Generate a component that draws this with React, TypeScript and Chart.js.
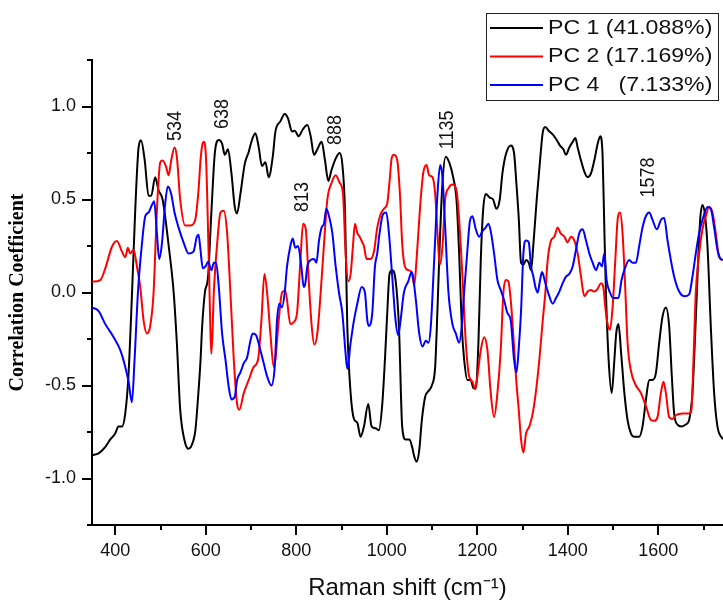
import React, { useEffect, useRef } from 'react';
import { Chart, registerables } from 'chart.js';

Chart.register(...registerables);

const SANS = '"Liberation Sans", Arial, Helvetica, sans-serif';
const SERIF = '"Liberation Serif", "Times New Roman", serif';

// ---- data (Raman shift in cm^-1, correlation coefficient) ----
const pc1Shift = [348.5, 363, 378, 389, 400, 407, 415, 422, 429, 437, 444, 451.5, 457, 465, 473.5, 479.5, 488, 495.6, 504.5, 518, 529, 536, 543.4, 554.5, 562, 569, 577, 583, 588, 592, 598, 605, 612.5, 620, 628.7, 636, 642, 649, 656.7, 664, 669, 676.5, 686, 695, 702, 709.6, 717, 724, 731.7, 739, 748, 753.8, 764.8, 774.4, 781.7, 790.6, 796.4, 805.3, 814, 824.4, 831.8, 839, 846.5, 856, 863.4, 870.8, 878, 887, 895.8, 901.7, 907.6, 912.7, 920, 927.4, 934.8, 942, 949.5, 959, 966.4, 975, 982.6, 990, 995.9, 1001, 1006, 1012, 1019.4, 1026.8, 1034, 1041.5, 1050, 1056, 1060.5, 1065.7, 1071.6, 1077.5, 1084.8, 1092, 1099.5, 1106.9, 1112, 1117, 1123, 1130.4, 1139.3, 1146.6, 1154, 1159.9, 1165.7, 1170.9, 1178.2, 1185.6, 1191.5, 1196.6, 1202.5, 1207.7, 1212.8, 1218.7, 1227.5, 1234.9, 1242.3, 1249.6, 1255.5, 1262.9, 1273.9, 1281.2, 1286, 1291.6, 1296.7, 1301.9, 1307.8, 1313.7, 1318.8, 1324, 1331.3, 1338.7, 1344.6, 1350.4, 1357.8, 1366.6, 1375.5, 1382.8, 1390.2, 1396, 1403.4, 1410.8, 1416.7, 1421.8, 1429.2, 1436.5, 1443.9, 1451.2, 1458.6, 1466, 1471.8, 1477, 1480.7, 1484.3, 1490.2, 1497, 1503, 1507, 1512, 1518, 1525, 1532, 1539.4, 1546.8, 1557.8, 1565.2, 1572.5, 1579.9, 1587.3, 1594.6, 1602, 1609.3, 1616.7, 1624, 1629.9, 1635, 1642.4, 1651.3, 1660.8, 1668.2, 1675.5, 1680.7, 1686.6, 1692.5, 1697.6, 1703.5, 1708.7, 1716, 1723.4, 1730.7, 1742.5];
const pc1Corr = [-0.874, -0.865, -0.83, -0.79, -0.757, -0.72, -0.72, -0.65, -0.45, 0.0, 0.44, 0.78, 0.817, 0.71, 0.52, 0.52, 0.62, 0.55, 0.5, 0.25, 0.0, -0.27, -0.63, -0.81, -0.84, -0.82, -0.74, -0.56, -0.38, -0.18, 0.0, 0.085, 0.44, 0.75, 0.82, 0.8, 0.74, 0.77, 0.64, 0.46, 0.425, 0.53, 0.69, 0.757, 0.82, 0.856, 0.78, 0.68, 0.7, 0.62, 0.73, 0.865, 0.92, 0.96, 0.936, 0.865, 0.87, 0.84, 0.875, 0.9, 0.84, 0.74, 0.77, 0.81, 0.71, 0.6, 0.66, 0.72, 0.75, 0.69, 0.44, -0.18, -0.54, -0.68, -0.7, -0.775, -0.72, -0.6, -0.72, -0.73, -0.74, -0.6, -0.36, -0.11, 0.1, 0.12, 0.067, -0.18, -0.72, -0.79, -0.79, -0.83, -0.88, -0.91, -0.85, -0.685, -0.56, -0.53, -0.5, -0.4, -0.09, 0.26, 0.59, 0.73, 0.69, 0.62, 0.5, 0.21, -0.18, -0.36, -0.47, -0.47, -0.515, -0.515, -0.27, 0.175, 0.44, 0.53, 0.51, 0.5, 0.45, 0.5, 0.64, 0.74, 0.79, 0.75, 0.6, 0.4, 0.16, 0.15, 0.175, 0.16, 0.12, 0.26, 0.5, 0.71, 0.86, 0.89, 0.87, 0.85, 0.82, 0.79, 0.77, 0.74, 0.78, 0.81, 0.83, 0.78, 0.71, 0.65, 0.62, 0.64, 0.71, 0.8, 0.84, 0.73, 0.35, 0.0, -0.36, -0.54, -0.36, -0.22, -0.17, -0.33, -0.54, -0.685, -0.757, -0.775, -0.775, -0.72, -0.58, -0.47, -0.47, -0.435, -0.27, -0.13, -0.08, -0.18, -0.45, -0.65, -0.71, -0.72, -0.71, -0.685, -0.54, -0.27, 0.085, 0.39, 0.47, 0.41, 0.25, -0.18, -0.54, -0.72, -0.79];

const pc2Shift = [348.5, 366.8, 377.9, 392.6, 403.6, 414.7, 422, 427.9, 433, 440.4, 447.8, 455.1, 462.5, 469.8, 477.2, 484.6, 491.9, 499.3, 504.4, 511.8, 517.7, 523.5, 530.9, 536, 543.4, 554.5, 565.5, 576.5, 583.9, 588.3, 591.9, 595.6, 600.7, 606.6, 612.5, 617.7, 625, 632.4, 639.7, 647.1, 654.4, 661.8, 669.2, 674.3, 683.9, 694.9, 705.9, 715.5, 722.9, 729.5, 735.4, 742.7, 750.1, 753.8, 761.1, 768.5, 775.8, 786.9, 794.2, 801.6, 809, 815, 821, 826.6, 834, 839.9, 846.5, 853.9, 861.2, 868.6, 878.1, 887, 895.8, 903.2, 909, 914.9, 920.1, 925.2, 929.6, 934.8, 940, 945.8, 949.5, 955.4, 964.2, 971.6, 979, 986.3, 993.7, 1001, 1006.2, 1010.6, 1015.7, 1023.1, 1029, 1034.1, 1040, 1047.4, 1054.7, 1060.6, 1065.7, 1073, 1080.4, 1087.8, 1093.6, 1101, 1106.9, 1112, 1117.2, 1123, 1129, 1136.3, 1145.1, 1154, 1159.9, 1167.2, 1174.6, 1181.9, 1189.3, 1195.2, 1200.3, 1207.7, 1215, 1222.4, 1229.7, 1237.1, 1244.5, 1251.8, 1257.7, 1262.9, 1268.7, 1273.9, 1281.2, 1286, 1291.6, 1296.7, 1301.9, 1307.8, 1315.1, 1322.5, 1329.2, 1337.2, 1344.6, 1350.4, 1355.6, 1363, 1370.3, 1377.7, 1383.6, 1392.4, 1399.7, 1407.1, 1414.4, 1421.8, 1429.2, 1436.5, 1443.9, 1451.2, 1458.6, 1466, 1473.3, 1478.5, 1482.9, 1488, 1493.2, 1499, 1505, 1510.1, 1515.5, 1521, 1526.5, 1532.1, 1539.4, 1550.5, 1561.5, 1572.5, 1583.6, 1591, 1598.3, 1605.7, 1611.5, 1616.7, 1624, 1631.4, 1638.8, 1653.5, 1668.2, 1673.3, 1677.8, 1682.9, 1690.3, 1697.6, 1705, 1712.3, 1719.7, 1727, 1734.4, 1742.5];
const pc2Corr = [0.058, 0.067, 0.13, 0.246, 0.277, 0.22, 0.19, 0.24, 0.21, 0.23, 0.14, 0.03, -0.15, -0.22, -0.18, 0.0, 0.44, 0.7, 0.71, 0.68, 0.63, 0.71, 0.78, 0.73, 0.5, 0.36, 0.36, 0.39, 0.55, 0.71, 0.79, 0.81, 0.71, 0.175, -0.33, 0.0, 0.26, 0.43, 0.44, 0.32, 0.0, -0.36, -0.6, -0.63, -0.54, -0.47, -0.4, -0.36, -0.15, 0.1, 0.0, -0.22, -0.4, -0.36, -0.15, 0.0, 0.01, -0.17, -0.16, -0.11, 0.17, 0.37, 0.34, 0.1, -0.18, -0.28, -0.22, 0.0, 0.26, 0.5, 0.59, 0.63, 0.59, 0.53, 0.21, 0.06, 0.1, 0.25, 0.37, 0.32, 0.3, 0.27, 0.25, 0.18, 0.18, 0.22, 0.35, 0.42, 0.45, 0.48, 0.6, 0.72, 0.74, 0.71, 0.53, 0.26, 0.14, 0.12, 0.11, 0.04, 0.175, 0.44, 0.64, 0.685, 0.63, 0.62, 0.53, 0.32, 0.15, 0.245, 0.5, 0.56, 0.58, 0.55, 0.39, 0.085, -0.27, -0.45, -0.48, -0.52, -0.45, -0.31, -0.24, -0.31, -0.54, -0.67, -0.54, -0.31, 0.0, 0.067, 0.06, -0.04, -0.29, -0.47, -0.63, -0.79, -0.86, -0.757, -0.72, -0.65, -0.54, -0.36, -0.15, 0.0, 0.175, 0.28, 0.3, 0.35, 0.32, 0.3, 0.27, 0.3, 0.28, 0.21, 0.085, -0.02, 0.005, 0.013, 0.005, 0.02, 0.05, 0.03, -0.08, -0.17, -0.2, -0.08, 0.175, 0.39, 0.43, 0.32, 0.05, -0.27, -0.42, -0.5, -0.54, -0.61, -0.685, -0.69, -0.67, -0.54, -0.48, -0.54, -0.67, -0.68, -0.66, -0.65, -0.65, -0.63, -0.36, 0.0, 0.21, 0.34, 0.41, 0.46, 0.43, 0.32, 0.19, 0.175];

const pc4Shift = [348.5, 363.2, 377.9, 396.3, 411, 422, 429.4, 436.7, 442.6, 450, 458.8, 466.2, 473.5, 480.9, 486, 491.9, 497, 502.9, 510.3, 516.2, 523.5, 530.9, 539.7, 550.8, 561.8, 572.8, 580.2, 584, 588.2, 593.4, 599.3, 605.2, 612.5, 617.7, 622.8, 628.7, 636, 643.4, 650.8, 656.7, 664, 669.2, 676.5, 683.9, 691.2, 698.6, 703.7, 711.1, 718.5, 728, 735.4, 745, 752.3, 757.4, 762.6, 768.5, 774.4, 779.5, 786.9, 792, 797.9, 803.8, 811.2, 816.3, 820, 824.4, 831.8, 839.2, 844.3, 850.2, 856.1, 861.2, 866.4, 872.3, 879.6, 887, 894.3, 901.7, 909, 912.7, 920.1, 927.4, 934.8, 944.4, 951.7, 956.9, 960.5, 967.9, 973.8, 978.9, 984.1, 991.4, 998.8, 1004.7, 1012, 1019.4, 1025.3, 1030.4, 1037.8, 1047.4, 1054.7, 1058, 1064.2, 1071.6, 1078.9, 1086.3, 1092.2, 1097.3, 1104.7, 1112, 1117.9, 1123, 1129, 1136.3, 1145.1, 1152.5, 1159.9, 1165.7, 1170.9, 1178.2, 1183.4, 1189.3, 1196.6, 1204, 1211.4, 1218.7, 1224.6, 1229.7, 1237.1, 1244.5, 1251.8, 1259.2, 1266.5, 1273.9, 1281.2, 1286.4, 1291.6, 1296.7, 1301.9, 1307.8, 1313.7, 1318.8, 1324, 1328.4, 1333.5, 1338.7, 1343.1, 1350.4, 1357.8, 1366.6, 1374, 1381.3, 1388.7, 1396, 1403.4, 1410.8, 1418.1, 1425.5, 1432.8, 1440.2, 1447.6, 1454.9, 1462.3, 1469.6, 1475.5, 1480.7, 1485.8, 1493.2, 1500.5, 1507.9, 1512, 1518.8, 1526.2, 1535.8, 1543.1, 1550.5, 1557.8, 1565.2, 1572.5, 1579.9, 1587.3, 1596.8, 1605.7, 1613, 1620.4, 1627.7, 1635.1, 1646.1, 1657.2, 1668.2, 1675.5, 1682.9, 1690.3, 1697.6, 1708.7, 1716, 1723.4, 1730.7, 1738.1, 1742.5];
const pc4Corr = [-0.08, -0.1, -0.17, -0.24, -0.31, -0.4, -0.48, -0.59, -0.36, 0.0, 0.26, 0.41, 0.43, 0.47, 0.49, 0.32, 0.18, 0.26, 0.48, 0.57, 0.53, 0.43, 0.35, 0.27, 0.21, 0.22, 0.3, 0.31, 0.23, 0.13, 0.14, 0.165, 0.12, 0.16, 0.16, 0.03, -0.22, -0.36, -0.51, -0.575, -0.56, -0.47, -0.43, -0.38, -0.35, -0.26, -0.22, -0.23, -0.29, -0.38, -0.45, -0.5, -0.4, -0.15, -0.06, -0.08, 0.0, 0.14, 0.25, 0.29, 0.24, 0.25, 0.14, 0.03, 0.05, 0.14, 0.175, 0.18, 0.16, 0.28, 0.35, 0.37, 0.45, 0.41, 0.32, 0.14, 0.0, -0.11, -0.33, -0.41, -0.27, -0.15, -0.06, 0.03, 0.0, -0.15, -0.18, -0.11, 0.14, 0.21, 0.32, 0.42, 0.43, 0.32, 0.085, -0.15, -0.23, -0.15, 0.0, 0.06, 0.11, 0.085, -0.04, -0.22, -0.29, -0.26, -0.27, -0.18, 0.175, 0.53, 0.685, 0.62, 0.35, 0.0, -0.17, -0.22, -0.27, -0.18, 0.0, 0.23, 0.38, 0.41, 0.34, 0.3, 0.33, 0.35, 0.37, 0.33, 0.21, 0.067, 0.013, -0.04, -0.11, -0.15, -0.36, -0.43, -0.3, -0.1, 0.21, 0.28, 0.27, 0.14, 0.085, 0.03, 0.0, 0.067, 0.11, 0.05, -0.01, -0.06, -0.03, 0.005, 0.05, 0.085, 0.1, 0.14, 0.23, 0.32, 0.34, 0.28, 0.21, 0.16, 0.12, 0.16, 0.14, 0.21, 0.067, 0.0, -0.03, -0.03, -0.03, 0.067, 0.13, 0.175, 0.16, 0.16, 0.25, 0.35, 0.41, 0.43, 0.39, 0.34, 0.39, 0.4, 0.28, 0.175, 0.085, 0.005, -0.02, -0.01, 0.085, 0.21, 0.32, 0.39, 0.46, 0.45, 0.35, 0.23, 0.18, 0.175];

const seriesLabels = ['PC 1 (41.088%)', 'PC 2 (17.169%)', 'PC 4   (7.133%)'];
const seriesColors = ['#000000', '#ff0000', '#0000ff'];

const peakLabels = ['534', '638', '813', '888', '1135', '1578'];
const peakShift = [534, 638, 813, 888, 1135, 1578];
const peakLabelLevel = [0.895, 0.96, 0.513, 0.874, 0.874, 0.618];

const xTickValues = [400, 500, 600, 700, 800, 900, 1000, 1100, 1200, 1300, 1400, 1500, 1600, 1700];
const yTickValues = [-1.25, -1.0, -0.75, -0.5, -0.25, 0, 0.25, 0.5, 0.75, 1.0, 1.25];

const xMin = 348.5;
const xMax = 1743;
const yMin = -1.25;
const yMax = 1.25;

const isMajorY = (v: number) => Math.abs(v * 2 - Math.round(v * 2)) < 1e-6;
const isMajorX = (v: number) => Math.abs(v % 200) < 1e-6;

export default function App() {
  const canvasRef = useRef<HTMLCanvasElement | null>(null);

  useEffect(() => {
    if (!canvasRef.current) return;
    const toPts = (xs: number[], ys: number[]) => xs.map((x, i) => ({ x, y: ys[i] }));

    const tickPlugin = {
      id: 'axisTicks',
      afterDraw(chart: any) {
        const { ctx } = chart;
        const xs = chart.scales.x;
        const ys = chart.scales.y;
        ctx.save();
        ctx.strokeStyle = '#000';
        ctx.lineWidth = 2;
        ctx.beginPath();
        xs.ticks.forEach((t: any) => {
          const px = Math.round(xs.getPixelForValue(t.value));
          const len = isMajorX(t.value) ? 10 : 5;
          ctx.moveTo(px, xs.top);
          ctx.lineTo(px, xs.top + len);
        });
        ys.ticks.forEach((t: any) => {
          const py = Math.round(ys.getPixelForValue(t.value));
          const len = isMajorY(t.value) ? 10 : 5;
          ctx.moveTo(ys.right, py);
          ctx.lineTo(ys.right - len, py);
        });
        ctx.stroke();
        ctx.restore();
      },
    };

    const peakPlugin = {
      id: 'peakLabels',
      afterDatasetsDraw(chart: any) {
        const { ctx } = chart;
        const xs = chart.scales.x;
        const ys = chart.scales.y;
        ctx.save();
        ctx.font = `18px ${SANS}`;
        ctx.fillStyle = '#111';
        ctx.textAlign = 'center';
        ctx.textBaseline = 'middle';
        peakLabels.forEach((t, i) => {
          ctx.save();
          ctx.translate(xs.getPixelForValue(peakShift[i]), ys.getPixelForValue(peakLabelLevel[i]));
          ctx.scale(1.08, 1);
          ctx.rotate(-Math.PI / 2);
          ctx.fillText(t, 0, 0);
          ctx.restore();
        });
        ctx.restore();
      },
    };

    const legendPlugin = {
      id: 'boxLegend',
      afterDraw(chart: any) {
        const { ctx } = chart;
        const bx = 486;
        const by = 13;
        const bw = 232;
        const bh = 87;
        ctx.save();
        ctx.fillStyle = '#fff';
        ctx.fillRect(bx, by, bw, bh);
        ctx.strokeStyle = '#222';
        ctx.lineWidth = 1;
        ctx.strokeRect(bx + 0.5, by + 0.5, bw, bh);
        ctx.font = `21px ${SANS}`;
        ctx.textBaseline = 'middle';
        ctx.textAlign = 'left';
        chart.data.datasets.forEach((ds: any, i: number) => {
          const y = by + 15 + i * 28.5;
          ctx.strokeStyle = ds.borderColor;
          ctx.lineWidth = 2;
          ctx.beginPath();
          ctx.moveTo(bx + 4, y);
          ctx.lineTo(bx + 57, y);
          ctx.stroke();
          ctx.fillStyle = '#111';
          ctx.save();
          ctx.translate(bx + 62, y);
          ctx.scale(1.1, 1);
          ctx.fillText(ds.label, 0, 0);
          ctx.restore();
        });
        ctx.restore();
      },
    };

    const datasets = [
      { label: seriesLabels[0], data: toPts(pc1Shift, pc1Corr), order: 3 },
      { label: seriesLabels[1], data: toPts(pc2Shift, pc2Corr), order: 2 },
      { label: seriesLabels[2], data: toPts(pc4Shift, pc4Corr), order: 1 },
    ].map((d, i) => ({
      ...d,
      borderColor: seriesColors[i],
      backgroundColor: seriesColors[i],
      borderWidth: 2,
      pointRadius: 0,
      fill: false,
      cubicInterpolationMode: 'monotone' as const,
    }));

    const chart = new Chart(canvasRef.current, {
      type: 'line',
      data: { datasets },
      plugins: [tickPlugin, peakPlugin, legendPlugin],
      options: {
        animation: false,
        responsive: true,
        maintainAspectRatio: false,
        events: [],
        layout: { padding: { top: 60, right: 0, bottom: 0, left: 0 } },
        plugins: {
          legend: { display: false },
          tooltip: { enabled: false },
        },
        scales: {
          x: {
            type: 'linear',
            position: 'bottom',
            min: xMin,
            max: xMax,
            grid: { display: true, drawOnChartArea: false, drawTicks: false, color: 'rgba(0,0,0,0)' },
            border: { display: true, color: '#000', width: 2 },
            ticks: {
              autoSkip: false,
              maxRotation: 0,
              minRotation: 0,
              padding: 15,
              color: '#111',
              font: { family: SANS, size: 18 },
              callback: (v: any) => (isMajorX(Number(v)) ? String(v) : ''),
            },
            afterBuildTicks: (scale: any) => {
              scale.ticks = xTickValues.map((value) => ({ value }));
            },
            afterFit: (scale: any) => {
              scale.height = 75;
            },
            title: {
              display: true,
              text: 'Raman shift (cm\u207B\u00B9)',
              color: '#111',
              font: { family: SANS, size: 24, lineHeight: 1 },
              padding: { top: 0, bottom: 0 },
            },
          },
          y: {
            type: 'linear',
            min: yMin,
            max: yMax,
            grid: { display: true, drawOnChartArea: false, drawTicks: false, color: 'rgba(0,0,0,0)' },
            border: { display: true, color: '#000', width: 2 },
            ticks: {
              autoSkip: false,
              padding: 16,
              color: '#111',
              font: { family: SANS, size: 18 },
              callback: (v: any) => {
                const n = Number(v);
                return isMajorY(n) && Math.abs(n) < 1.2 ? n.toFixed(1) : '';
              },
            },
            afterBuildTicks: (scale: any) => {
              scale.ticks = yTickValues.map((value) => ({ value }));
            },
            afterFit: (scale: any) => {
              scale.width = 92;
            },
            title: {
              display: true,
              text: 'Correlation Coefficient',
              color: '#000',
              font: { family: SERIF, size: 20, weight: 'bold' },
              padding: { top: 6, bottom: 0 },
            },
          },
        },
      } as any,
    });

    return () => chart.destroy();
  }, []);

  return (
    <div style={{ position: 'absolute', left: 0, top: 0, width: 723, height: 600, background: '#fff' }}>
      <canvas ref={canvasRef} />
    </div>
  );
}
